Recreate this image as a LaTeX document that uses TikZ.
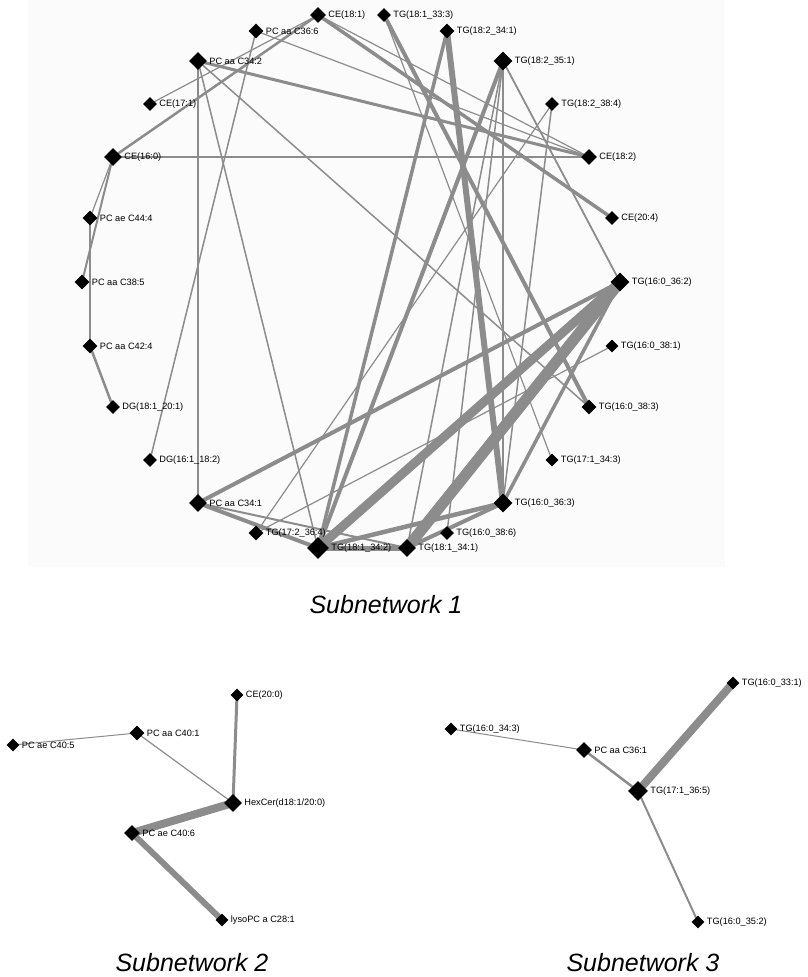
\documentclass[tikz,border=0pt]{standalone}
\usepackage{fontspec}
\setmainfont{Liberation Sans}
\usetikzlibrary{shapes.geometric,backgrounds}
\definecolor{edgegray}{RGB}{140,140,140}
\tikzset{
  dia/.style={diamond,fill=black,inner sep=0pt,minimum size=#1},
  dia/.default=14pt,
  lbl/.style={font=\fontsize{9.2}{10}\selectfont,inner sep=0.5pt,label distance=1.5pt},
  edge/.style={draw=edgegray,line cap=butt},
  sntitle/.style={font=\fontsize{25}{29}\selectfont\itshape}
}
\begin{document}
\begin{tikzpicture}[x=1pt,y=-1pt]
\useasboundingbox (0,0) rectangle (807,977);
% subnetwork 1: lipids on a circle
\foreach \kn/\kx/\ky/\ks/\klb in {
  tg0362/620/282/19/{TG(16:0\_36:2)},
  ce204/612/218/14/{CE(20:4)},
  ce182/589/157/16/{CE(18:2)},
  tg2384/552/104/14/{TG(18:2\_38:4)},
  tg2351/503/61/19/{TG(18:2\_35:1)},
  tg2341/447/31/15/{TG(18:2\_34:1)},
  tg1333/384/15/14/{TG(18:1\_33:3)},
  ce181/318/15/16/{CE(18:1)},
  pc366/256/31/15/{PC aa C36:6},
  pc342/198/61/18/{PC aa C34:2},
  ce171/150/104/14/{CE(17:1)},
  ce160/113/157/18/{CE(16:0)},
  pe444/90/218/15/{PC ae C44:4},
  pc385/82/282/15/{PC aa C38:5},
  pc424/90/346/15/{PC aa C42:4},
  dg1201/113/407/14/{DG(18:1\_20:1)},
  dg6182/150/460/14/{DG(16:1\_18:2)},
  pc341/198/503/18/{PC aa C34:1},
  tg7364/256/533/15/{TG(17:2\_36:4)},
  tg1342/318/548/22/{TG(18:1\_34:2)},
  tg1341/407/548/18/{TG(18:1\_34:1)},
  tg0386/447/533/14/{TG(16:0\_38:6)},
  tg0363/503/503/19/{TG(16:0\_36:3)},
  tg7343/552/460/13/{TG(17:1\_34:3)},
  tg0383/589/407/15/{TG(16:0\_38:3)},
  tg0381/612/346/13/{TG(16:0\_38:1)}}
  {\node[dia=\ks pt,label={[lbl]right:\klb}] (\kn) at (\kx,\ky) {};}
% subnetwork 2
\node[dia=13pt,label={[lbl]right:CE(20:0)}] (ce200) at (237,695) {};
\node[dia=15pt,label={[lbl]right:PC aa C40:1}] (pc401) at (137,733) {};
\node[dia=13pt,label={[lbl]right:PC ae C40:5}] (pe405) at (13,745) {};
\node[dia=18pt,label={[lbl]right:HexCer(d18:1/20:0)}] (hexcer) at (233,803) {};
\node[dia=16pt,label={[lbl]right:PC ae C40:6}] (pe406) at (132,833) {};
\node[dia=13pt,label={[lbl]right:lysoPC a C28:1}] (lyso281) at (222,920) {};
% subnetwork 3
\node[dia=13pt,label={[lbl]right:TG(16:0\_33:1)}] (tg0331) at (733,683) {};
\node[dia=13pt,label={[lbl]right:TG(16:0\_34:3)}] (tg0343) at (451,729) {};
\node[dia=16pt,label={[lbl]right:PC aa C36:1}] (pc361) at (584,750) {};
\node[dia=20pt,label={[lbl]right:TG(17:1\_36:5)}] (tg7365) at (638,791) {};
\node[dia=13pt,label={[lbl]right:TG(16:0\_35:2)}] (tg0352) at (698,922) {};
% titles
\node[sntitle] (title1) at (386,605) {Subnetwork 1};
\node[sntitle] (title2) at (192,963) {Subnetwork 2};
\node[sntitle] (title3) at (643,963) {Subnetwork 3};
\begin{pgfonlayer}{background}
\fill[black!1.5] (28,0) rectangle (725,567);
\foreach \ka/\kb/\kw in {
  ce181/ce171/1.2, ce181/ce160/2.5, ce181/ce204/3.5, ce181/ce182/1.2,
  pc366/ce182/1.2, pc366/dg6182/1.5,
  pc342/ce182/3, pc342/pc341/1.5, pc342/tg1342/1.5, pc342/tg0383/1.5,
  ce160/ce182/2.5, ce160/pe444/1.2, ce160/pc385/2, pe444/pc424/1.5, pc424/dg1201/2.5,
  tg1333/tg0383/4, tg1333/tg7343/1.2,
  tg2341/tg0363/6, tg2341/tg1342/3.5,
  tg2351/tg0362/1.8, tg2351/tg0363/1.5, tg2351/tg0386/1.5, tg2351/tg1341/1.5, tg2351/tg1342/4,
  tg2384/tg7364/1.2, tg2384/tg0363/1.5,
  tg0362/pc341/4, tg0362/tg1342/9, tg0362/tg1341/11, tg0362/tg0363/3.5,
  tg0381/tg7364/1.2,
  tg0363/tg1342/4.5, tg0363/tg1341/4,
  pc341/tg1342/4, pc341/tg1341/2, tg1342/tg1341/5,
  pe405/pc401/1, pc401/hexcer/1.2, ce200/hexcer/3, hexcer/pe406/8, pe406/lyso281/6,
  tg0343/pc361/1, pc361/tg7365/2.5, tg7365/tg0331/8, tg7365/tg0352/2}
  {\draw[edge,line width=\kw pt] (\ka.center) -- (\kb.center);}
\end{pgfonlayer}
\end{tikzpicture}
\end{document}
